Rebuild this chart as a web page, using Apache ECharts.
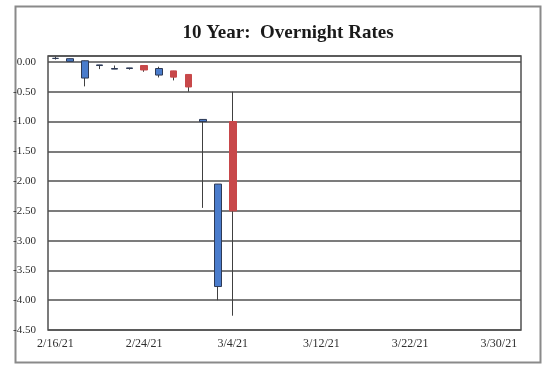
<!DOCTYPE html>
<html>
<head>
<meta charset="utf-8">
<script src="https://cdn.jsdelivr.net/npm/echarts@6/dist/echarts.min.js"></script>
<style>
html,body{margin:0;padding:0;background:#fff;}
#chart{width:554px;height:369px;}
</style>
</head>
<body>
<div id="chart"></div>
<script>
// Business-day categories (2/16/21 .. 3/31/21)
var categories = ['2/16/21','2/17/21','2/18/21','2/19/21','2/22/21','2/23/21','2/24/21','2/25/21','2/26/21',
  '3/1/21','3/2/21','3/3/21','3/4/21','3/5/21','3/8/21','3/9/21','3/10/21','3/11/21','3/12/21',
  '3/15/21','3/16/21','3/17/21','3/18/21','3/19/21','3/22/21','3/23/21','3/24/21','3/25/21','3/26/21',
  '3/29/21','3/30/21','3/31/21'];
var opens  = [0.06, 0.01, -0.27, -0.06, -0.12, -0.11, -0.06, -0.22, -0.15, -0.21, -1.00, -3.77, -1.00];
var closes = [0.06, 0.055, 0.02, -0.05, -0.11, -0.10, -0.135, -0.11, -0.255, -0.42, -0.965, -2.05, -2.50];
var lows   = [0.04, 0.01, -0.41, -0.12, -0.12, -0.13, -0.165, -0.26, -0.31, -0.50, -2.45, -4.00, -4.26];
var highs  = [0.09, 0.055, 0.02, -0.05, -0.06, -0.10, -0.06, -0.08, -0.15, -0.21, -0.96, -2.05, -0.50];
var yTicks = [0, -0.5, -1, -1.5, -2, -2.5, -3, -3.5, -4, -4.5];

var wickData = opens.map(function (o, i) { return [o, closes[i], lows[i], highs[i]]; });
var bodyData = opens.map(function (o, i) {
  var c = closes[i];
  return [o, c, Math.min(o, c), Math.max(o, c)];
});

var chart = echarts.init(document.getElementById('chart'));
var lblFont = {fontFamily: 'Liberation Serif', fontSize: 12, color: '#2e2e2e'};
chart.setOption({
  animation: false,
  backgroundColor: '#ffffff',
  title: {
    text: '10 Year:  Overnight Rates',
    left: 283, top: 19, textAlign: 'center',
    textStyle: {fontFamily: 'Liberation Serif', fontWeight: 'bold', fontSize: 19, color: '#1a1a1a'}
  },
  graphic: [{
    type: 'rect', left: 13, top: 4,
    shape: {width: 525, height: 356},
    style: {fill: 'none', stroke: '#8a8a8a', lineWidth: 2},
    silent: true
  }],
  grid: {left: 48, right: 33, top: 56, bottom: 39, show: true, borderColor: '#505050', borderWidth: 1.5, backgroundColor: 'transparent'},
  xAxis: {
    type: 'category',
    data: categories,
    boundaryGap: true,
    axisLine: {show: false},
    axisTick: {show: false},
    axisLabel: Object.assign({interval: 5, margin: 8}, lblFont),
    splitLine: {show: false}
  },
  yAxis: {
    type: 'value',
    min: yTicks[yTicks.length - 1],
    max: 0.1,
    interval: 0.5,
    axisLine: {show: false},
    axisTick: {show: false},
    axisLabel: Object.assign({}, lblFont, {
      fontSize: 11, margin: 12, showMaxLabel: false,
      formatter: function (v) { return (Math.abs(v * 2 - Math.round(v * 2)) < 1e-6) ? v.toFixed(2) : ''; }
    }),
    splitLine: {lineStyle: {color: '#505050', width: 1.5}}
  },
  series: [{
    name: 'wick',
    type: 'candlestick',
    data: wickData,
    barWidth: 1,
    itemStyle: {color: '#404040', color0: '#404040', borderColor: '#404040', borderColor0: '#404040', borderWidth: 1},
    z: 2
  }, {
    name: 'body',
    type: 'candlestick',
    data: bodyData,
    barWidth: 7,
    itemStyle: {color: '#4a7ccc', color0: '#c8484a', borderColor: '#2e3a55', borderColor0: '#c8484a', borderWidth: 1},
    z: 3
  }]
});
</script>
</body>
</html>
